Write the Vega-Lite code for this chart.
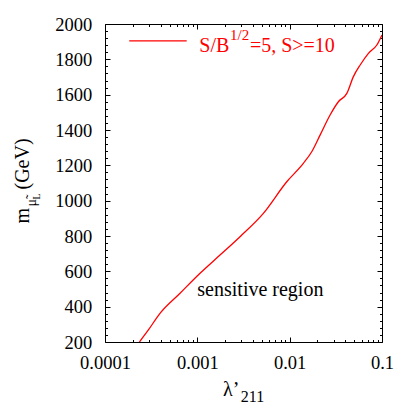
{
  "$schema": "https://vega.github.io/schema/vega-lite/v6.json",
  "width": 277,
  "height": 318,
  "autosize": {"type": "none"},
  "padding": {"left": 105, "top": 24, "right": 33, "bottom": 62},
  "background": "white",
  "config": {
    "font": "Liberation Serif, Times New Roman, DejaVu Serif, serif",
    "view": {"stroke": null},
    "axis": {
      "grid": false,
      "labelFont": "Liberation Serif, Times New Roman, DejaVu Serif, serif",
      "labelFontSize": 18.5,
      "labelColor": "black",
      "labelFlush": false,
      "labelOverlap": false,
      "titleFont": "Liberation Serif, Times New Roman, DejaVu Serif, serif",
      "titleFontWeight": "normal",
      "titleColor": "black",
      "tickColor": "black",
      "tickWidth": 1,
      "domainColor": "black",
      "domainWidth": 1
    },
    "text": {"font": "Liberation Serif, Times New Roman, DejaVu Serif, serif"}
  },
  "layer": [
    {
      "data": {"values": [
        {"x": 0.000236, "y": 200},
        {"x": 0.000295, "y": 268},
        {"x": 0.000394, "y": 362},
        {"x": 0.00065, "y": 476},
        {"x": 0.00107, "y": 589},
        {"x": 0.00176, "y": 692},
        {"x": 0.0029, "y": 796},
        {"x": 0.00519, "y": 928},
        {"x": 0.0093, "y": 1107},
        {"x": 0.01406, "y": 1211},
        {"x": 0.01733, "y": 1277},
        {"x": 0.02134, "y": 1371},
        {"x": 0.0274, "y": 1485},
        {"x": 0.0337, "y": 1560},
        {"x": 0.0416, "y": 1607},
        {"x": 0.049, "y": 1702},
        {"x": 0.058, "y": 1768},
        {"x": 0.0713, "y": 1834},
        {"x": 0.0879, "y": 1881},
        {"x": 0.1, "y": 1938}
      ]},
      "mark": {"type": "line", "color": "#ff0000", "strokeWidth": 1.3, "interpolate": "monotone", "clip": true},
      "encoding": {
        "x": {"field": "x", "type": "quantitative",
          "scale": {"type": "log", "domain": [0.0001, 0.1], "nice": false},
          "axis": {"orient": "bottom", "values": [0.0001, 0.001, 0.01, 0.1], "labelExpr": "toString(datum.value)",
            "tickSize": -5, "labelPadding": 16, "labelBaseline": "top",
            "title": "λ’", "titleFontSize": 20, "titleX": 117.6, "titleY": 53.5, "titleAlign": "left", "titleBaseline": "alphabetic", "titleAngle": 0}},
        "y": {"field": "y", "type": "quantitative",
          "scale": {"domain": [200, 2000], "nice": false, "zero": false},
          "axis": {"orient": "left", "values": [200, 400, 600, 800, 1000, 1200, 1400, 1600, 1800, 2000], "format": "d",
            "tickSize": -5, "labelPadding": 18.3,
            "title": "(GeV)", "titleFontSize": 20, "titleX": -77, "titleY": 165, "titleAlign": "left", "titleBaseline": "alphabetic", "titleAngle": 270}}
      }
    },
    {
      "data": {"values": [{"x": 0.000183, "x2": 0.000767, "y": 1905}]},
      "mark": {"type": "rule", "color": "#ff0000", "strokeWidth": 1.3},
      "encoding": {
        "x": {"field": "x", "type": "quantitative",
          "scale": {"type": "log", "domain": [0.0001, 0.1], "nice": false},
          "axis": {"orient": "bottom", "labels": false, "domain": false, "tickSize": -2.5,
            "values": [0.0002, 0.0003, 0.0004, 0.0005, 0.0006, 0.0007, 0.0008, 0.0009, 0.002, 0.003, 0.004, 0.005, 0.006, 0.007, 0.008, 0.009, 0.02, 0.03, 0.04, 0.05, 0.06, 0.07, 0.08, 0.09],
            "title": "211", "titleFontSize": 16, "titleX": 135.3, "titleY": 59, "titleAlign": "left", "titleBaseline": "alphabetic", "titleAngle": 0}},
        "x2": {"field": "x2"},
        "y": {"field": "y", "type": "quantitative",
          "scale": {"domain": [200, 2000], "nice": false, "zero": false},
          "axis": {"orient": "left", "labels": false, "domain": false, "tickSize": -2.5,
            "values": [240, 280, 320, 360, 440, 480, 520, 560, 640, 680, 720, 760, 840, 880, 920, 960, 1040, 1080, 1120, 1160, 1240, 1280, 1320, 1360, 1440, 1480, 1520, 1560, 1640, 1680, 1720, 1760, 1840, 1880, 1920, 1960],
            "title": "m", "titleFontSize": 20, "titleX": -77, "titleY": 199, "titleAlign": "left", "titleBaseline": "alphabetic", "titleAngle": 270}}
      }
    },
    {
      "data": {"values": [{"x": 0.00105, "y": 1843, "label": "S/B"}]},
      "mark": {"type": "text", "color": "#ff0000", "fontSize": 20, "align": "left", "baseline": "alphabetic"},
      "encoding": {
        "x": {"field": "x", "type": "quantitative",
          "scale": {"type": "log", "domain": [0.0001, 0.1], "nice": false},
          "axis": {"orient": "top", "labels": false, "tickSize": -5, "values": [0.0001, 0.001, 0.01, 0.1], "title": null}},
        "y": {"field": "y", "type": "quantitative",
          "scale": {"domain": [200, 2000], "nice": false, "zero": false},
          "axis": {"orient": "right", "labels": false, "tickSize": -5, "values": [200, 400, 600, 800, 1000, 1200, 1400, 1600, 1800, 2000],
            "title": "μ̃", "titleFontSize": 14, "titleX": -347, "titleY": 182, "titleAlign": "left", "titleBaseline": "alphabetic", "titleAngle": 270}},
        "text": {"field": "label"}
      }
    },
    {
      "data": {"values": [{"x": 0.00226, "y": 1909, "label": "1/2"}]},
      "mark": {"type": "text", "color": "#ff0000", "fontSize": 15, "align": "left", "baseline": "alphabetic"},
      "encoding": {
        "x": {"field": "x", "type": "quantitative",
          "scale": {"type": "log", "domain": [0.0001, 0.1], "nice": false},
          "axis": {"orient": "top", "labels": false, "domain": false, "tickSize": -2.5,
            "values": [0.0002, 0.0003, 0.0004, 0.0005, 0.0006, 0.0007, 0.0008, 0.0009, 0.002, 0.003, 0.004, 0.005, 0.006, 0.007, 0.008, 0.009, 0.02, 0.03, 0.04, 0.05, 0.06, 0.07, 0.08, 0.09], "title": null}},
        "y": {"field": "y", "type": "quantitative",
          "scale": {"domain": [200, 2000], "nice": false, "zero": false},
          "axis": {"orient": "right", "labels": false, "domain": false, "tickSize": -2.5,
            "values": [240, 280, 320, 360, 440, 480, 520, 560, 640, 680, 720, 760, 840, 880, 920, 960, 1040, 1080, 1120, 1160, 1240, 1280, 1320, 1360, 1440, 1480, 1520, 1560, 1640, 1680, 1720, 1760, 1840, 1880, 1920, 1960],
            "title": "L", "titleFontSize": 10, "titleX": -343, "titleY": 175, "titleAlign": "left", "titleBaseline": "alphabetic", "titleAngle": 270}},
        "text": {"field": "label"}
      }
    },
    {
      "data": {"values": [{"x": 0.00371, "y": 1843, "label": "=5, S>=10"}]},
      "mark": {"type": "text", "color": "#ff0000", "fontSize": 20, "align": "left", "baseline": "alphabetic"},
      "encoding": {
        "x": {"field": "x", "type": "quantitative", "scale": {"type": "log", "domain": [0.0001, 0.1], "nice": false}, "axis": null},
        "y": {"field": "y", "type": "quantitative", "scale": {"domain": [200, 2000], "nice": false, "zero": false}, "axis": null},
        "text": {"field": "label"}
      }
    },
    {
      "data": {"values": [{"x": 0.001, "y": 460, "label": "sensitive region"}]},
      "mark": {"type": "text", "color": "black", "fontSize": 20, "align": "left", "baseline": "alphabetic"},
      "encoding": {
        "x": {"field": "x", "type": "quantitative", "scale": {"type": "log", "domain": [0.0001, 0.1], "nice": false}, "axis": null},
        "y": {"field": "y", "type": "quantitative", "scale": {"domain": [200, 2000], "nice": false, "zero": false}, "axis": null},
        "text": {"field": "label"}
      }
    }
  ],
  "resolve": {"axis": {"x": "independent", "y": "independent"}}
}
